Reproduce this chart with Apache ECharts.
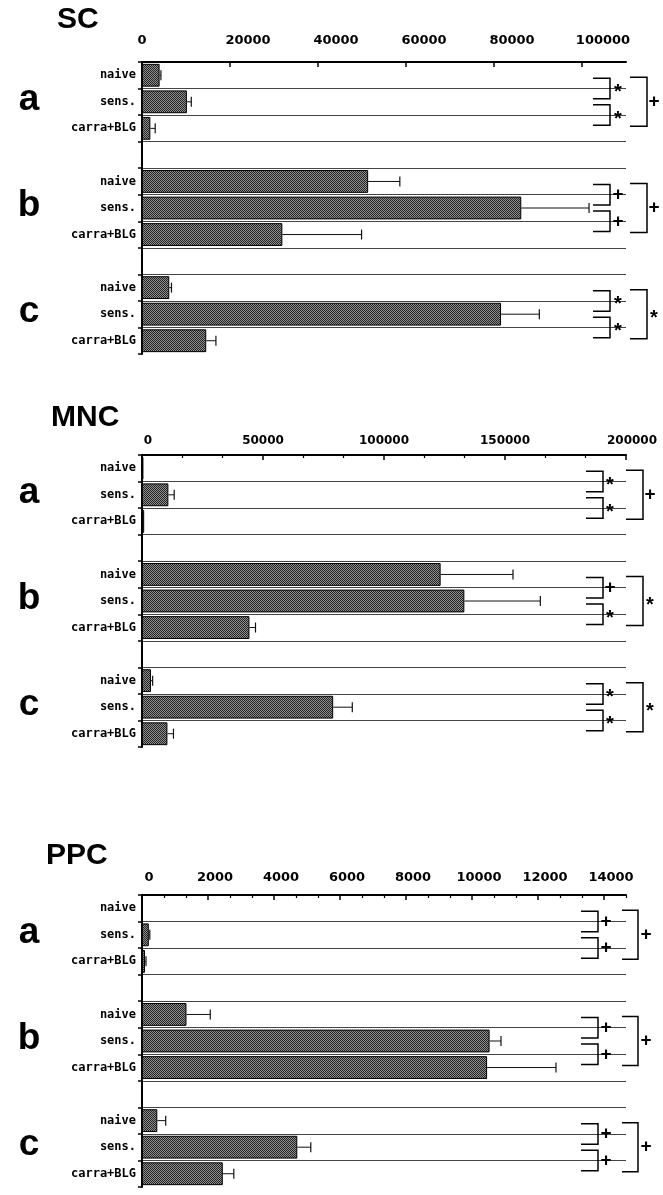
<!DOCTYPE html>
<html><head><meta charset="utf-8">
<script src="https://cdn.jsdelivr.net/npm/echarts@6/dist/echarts.min.js"></script>
<style>html,body{margin:0;padding:0;background:#fff}#c{width:663px;height:1195px}</style>
</head><body><div id="c"></div>
<script>
// ---------- data ----------
const categories = ['naive','sens.','carra+BLG','','naive','sens.','carra+BLG','','naive','sens.','carra+BLG'];
const groupLetters = ['a','b','c'];
const groupStart = [0,4,8];
const panelNames = ['SC','MNC','PPC'];

const scMean  = [4000, 10200, 1900, null, 51400, 86200, 31900, null, 6200, 81600, 14600];
const scErr   = [300, 1000, 1100, null, 7200, 15400, 18000, null, 500, 8700, 2200];
const mncMean = [600, 10900, 900, null, 123400, 133200, 44400, null, 3700, 79000, 10500];
const mncErr  = [0, 2400, 0, null, 29900, 31400, 2500, null, 700, 7900, 2500];
const ppcMean = [30, 206, 91, null, 1348, 10533, 10458, null, 464, 4706, 2448];
const ppcErr  = [0, 30, 30, null, 720, 346, 2087, null, 254, 409, 334];

const scSig  = [['*','*','+'], ['+','+','+'], ['*','*','*']];
const mncSig = [['*','*','+'], ['+','*','*'], ['*','*','*']];
const ppcSig = [['+','+','+'], ['+','+','+'], ['+','+','+']];

const scTicks  = [0, 20000, 40000, 60000, 80000, 100000];
const mncTicks = [0, 50000, 100000, 150000, 200000];
const ppcTicks = [0, 2000, 4000, 6000, 8000, 10000, 12000, 14000];
const scMax = 110000, mncMax = 200000, ppcMax = 14667;

// ---------- helpers ----------
function minorTicks(major, max) {
  const step = (major[1] - major[0]) / 3;
  const out = [];
  for (let k = 1; k * step <= max + 1; k++) { if (k % 3 !== 0) out.push(k * step); }
  return out;
}
const pat = document.createElement('canvas');
pat.width = 2; pat.height = 2;
(function(){ const c = pat.getContext('2d');
  c.fillStyle = '#8c8c8c'; c.fillRect(0,0,2,2);
  c.fillStyle = '#262626'; c.fillRect(0,0,1,1); c.fillRect(1,1,1,1); })();

const panels = [
  {name:'SC',  mean:scMean,  err:scErr,  sig:scSig,  ticks:scTicks,  minor:[], max:scMax,
   top:62, titleLeft:57, titleTop:5, labelMargin:15, labelSize:13,
   shift:v => (v === 0 ? 0 : (v === 100000 ? 21 : 18)),
   small:[-33,-16,-8], big:[4,21,28]},
  {name:'MNC', mean:mncMean, err:mncErr, sig:mncSig, ticks:mncTicks, minor:minorTicks(mncTicks, mncMax), max:mncMax,
   top:455, titleLeft:51, titleTop:403, labelMargin:8, labelSize:12,
   shift:v => (v === 0 || v === 200000 ? 6 : 0),
   small:[-40,-23,-16], big:[0,17,24]},
  {name:'PPC', mean:ppcMean, err:ppcErr, sig:ppcSig, ticks:ppcTicks, minor:minorTicks(ppcTicks, ppcMax), max:ppcMax,
   top:895, titleLeft:46, titleTop:841, labelMargin:11, labelSize:13,
   shift:v => 7,
   small:[-45,-28,-20], big:[-4,12,20]}
];

const GRID_LEFT = 142, GRID_W = 484, GRID_H = 292;
const grid = [], xAxis = [], yAxis = [], series = [], title = [];

panels.forEach((P, g) => {
  grid.push({left:GRID_LEFT, top:P.top, width:GRID_W, height:GRID_H, containLabel:false, outerBoundsMode:'none'});
  title.push({text:P.name, left:P.titleLeft, top:P.titleTop, padding:0,
    textStyle:{fontFamily:'Liberation Sans', fontWeight:'bold', fontSize:30, color:'#000'}});
  const mainIdx = xAxis.length;
  xAxis.push({
    gridIndex:g, type:'value', position:'top', min:0, max:P.max,
    axisLine:{show:true, onZero:false, lineStyle:{color:'#000', width:2}},
    axisTick:{show:true, inside:true, length:5, customValues:P.ticks, lineStyle:{color:'#000', width:1.5}},
    axisLabel:{show:true, customValues:P.ticks, margin:P.labelMargin,
      fontFamily:'DejaVu Sans', fontWeight:'bold', fontSize:P.labelSize, color:'#000',
      formatter:v => {
        const s = P.shift(v);
        return s ? '{p' + s + '|' + v + '}' : '{n|' + v + '}';
      },
      rich:(function(){ const r = {n:{fontFamily:'DejaVu Sans', fontWeight:'bold', fontSize:P.labelSize, color:'#000'}};
        [6,7,18,21].forEach(s => { r['p'+s] = {fontFamily:'DejaVu Sans', fontWeight:'bold', fontSize:P.labelSize, color:'#000', padding:[0,0,0,2*s]}; });
        return r; })()},
    splitLine:{show:false}
  });
  if (P.minor.length) {
    xAxis.push({
      gridIndex:g, type:'value', position:'top', min:0, max:P.max,
      axisLine:{show:false}, axisLabel:{show:false}, splitLine:{show:false},
      axisTick:{show:true, inside:true, length:3, customValues:P.minor, lineStyle:{color:'#000', width:1.2}}
    });
  }
  yAxis.push({
    gridIndex:g, type:'category', data:categories, inverse:true, boundaryGap:true,
    axisLine:{show:true, onZero:false, lineStyle:{color:'#000', width:2}},
    axisTick:{show:true, inside:false, length:4, interval:0, lineStyle:{color:'#000', width:1.5}},
    axisLabel:{show:true, interval:0, margin:6, fontFamily:'DejaVu Sans Mono', fontWeight:'bold', fontSize:12, color:'#000'},
    splitLine:{show:true, interval:0, showMinLine:true, showMaxLine:false, lineStyle:{color:'#444', width:1}}
  });
  // bars
  series.push({
    type:'bar', xAxisIndex:mainIdx, yAxisIndex:g, barWidth:'86%',
    data:P.mean.map(v => (v === null ? '-' : v)),
    itemStyle:{color:{image:pat, repeat:'repeat'}, borderColor:'#000', borderWidth:1},
    emphasis:{disabled:true}, silent:true, animation:false
  });
  // error bars
  const errData = [];
  P.mean.forEach((m, i) => { if (m !== null) errData.push([i, m, P.err[i]]); });
  series.push({
    type:'custom', xAxisIndex:mainIdx, yAxisIndex:g, data:errData, encode:{x:[1,2], y:0},
    silent:true, animation:false, z:5,
    renderItem:(params, api) => {
      const cat = api.value(0), m = api.value(1), e = api.value(2);
      if (!e) return null;
      const p0 = api.coord([m, cat]), p1 = api.coord([m + e, cat]);
      return {type:'group', children:[
        {type:'line', shape:{x1:p0[0], y1:p0[1], x2:p1[0], y2:p1[1]}, style:{stroke:'#111', lineWidth:1}},
        {type:'line', shape:{x1:p1[0], y1:p1[1]-5, x2:p1[0], y2:p1[1]+5}, style:{stroke:'#111', lineWidth:1.2}}
      ]};
    }
  });
  // significance brackets and group letters
  series.push({
    type:'custom', xAxisIndex:mainIdx, yAxisIndex:g, clip:false, silent:true, animation:false, z:6,
    data:groupStart.map(s => [P.max, s]), encode:{x:0, y:1},
    renderItem:(params, api) => {
      const gi = params.dataIndex;
      const p = api.coord([api.value(0), api.value(1)]);
      const xl = api.coord([0, api.value(1)])[0];
      const slot = api.size([0, 1])[1];
      const xe = p[0], yN = p[1], yS = yN + slot, yC = yN + 2 * slot;
      const st = {stroke:'#000', lineWidth:1.5, fill:null};
      const sym = P.sig[gi];
      function bracket(x1, x2, ya, yb) {
        return {type:'polyline', shape:{points:[[x1, ya], [x2, ya], [x2, yb], [x1, yb]]}, style:st};
      }
      function symText(s, x, y) {
        return {type:'text', x:x, y:y + (s === '*' ? 4 : 0), style:{text:s, fontFamily:'Liberation Sans', fontWeight:'bold',
          fontSize:s === '*' ? 20 : 19, fill:'#000', align:'center', verticalAlign:'middle'}};
      }
      return {type:'group', children:[
        bracket(xe + P.small[0], xe + P.small[1], yN + 3, yS - 3),
        bracket(xe + P.small[0], xe + P.small[1], yS + 3, yC - 3),
        bracket(xe + P.big[0], xe + P.big[1], yN + 2, yC - 2),
        symText(sym[0], xe + P.small[2], yN + slot / 2),
        symText(sym[1], xe + P.small[2], yS + slot / 2),
        symText(sym[2], xe + P.big[2], yS),
        {type:'text', x:xl - 113, y:yS - 2, style:{text:groupLetters[gi], fontFamily:'Liberation Sans', fontWeight:'bold',
          fontSize:37, fill:'#000', align:'center', verticalAlign:'middle'}}
      ]};
    }
  });
});

const chart = echarts.init(document.getElementById('c'), null, {renderer:'canvas'});
chart.setOption({animation:false, backgroundColor:'#fff', title, grid, xAxis, yAxis, series});
</script>
</body></html>
